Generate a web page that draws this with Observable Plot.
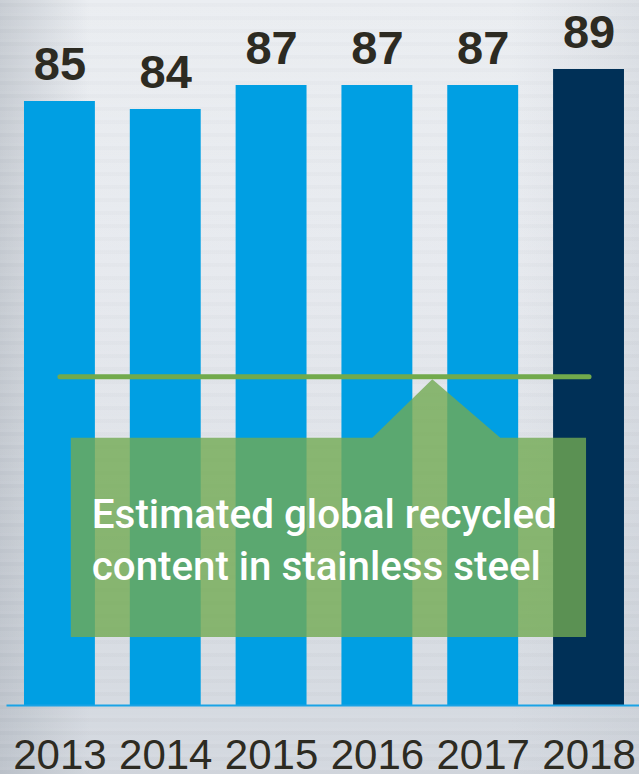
<!DOCTYPE html>
<html><head><meta charset="utf-8">
<script src="https://cdn.jsdelivr.net/npm/d3@7"></script>
<script src="https://cdn.jsdelivr.net/npm/@observablehq/plot@0.6"></script>
<style>
html,body{margin:0;padding:0;}
body{
  width:639px;height:774px;overflow:hidden;
  background:
    repeating-linear-gradient(180deg, rgba(255,255,255,0.06) 0px, rgba(255,255,255,0.06) 3px, rgba(0,0,0,0.012) 3px, rgba(0,0,0,0.012) 7px, rgba(255,255,255,0.03) 7px, rgba(255,255,255,0.03) 13px),
    linear-gradient(90deg, rgba(170,177,186,0.55) 0%, rgba(200,205,212,0) 14%, rgba(255,255,255,0) 80%, rgba(190,196,204,0.35) 100%),
    linear-gradient(180deg, #eaedf1 0%, #e6e9ee 35%, #dde1e7 65%, #d2d7de 100%);
}
#chart svg{display:block;}
</style></head>
<body><div id="chart"></div>
<script>
// ---- data ----
const years = ["2013", "2014", "2015", "2016", "2017", "2018"];
const values = [85, 84, 87, 87, 87, 89];
const highlightYear = "2018";
const recycledLevel = 50.6;            // level of the green reference line
const calloutTop = 42.9, calloutBottom = 18.0;
const calloutLines = ["Estimated global recycled", "content in stainless steel"];
const yDomain = [9.5, 97.625];

const data = years.map((year, i) => ({year, value: values[i]}));

const blue = "#009fe3", navy = "#003057", ink = "#2d2b22", green = "#72aa4c";

function callout(index, scales) {
  const x = scales.x, y = scales.y;
  const bw = typeof x.bandwidth === "function" ? x.bandwidth() : x.bandwidth;
  const c = v => x(v) + bw / 2;
  const L = c(years[0]) + 0.16 * bw, R = c(years[years.length - 1]) - 0.035 * bw;
  const T = y(calloutTop), B = y(calloutBottom);
  const px = (c(years[3]) + c(years[4])) / 2 + 2.5, py = y(recycledLevel) + 3;
  const g = d3.create("svg:g");
  g.append("path")
    .attr("d", `M${L},${T}H${px - 60}L${px},${py}L${px + 68},${T}H${R}V${B}H${L}Z`)
    .attr("fill", "#72aa52").attr("fill-opacity", 0.8);
  const widths = [465, 449];
  calloutLines.forEach((s, i) => {
    g.append("text")
      .attr("x", L + 21).attr("y", T + 90 + i * 52)
      .attr("fill", "white")
      .attr("text-anchor", "start")
      .attr("font-family", "Roboto, 'Liberation Sans', Arial, sans-serif")
      .attr("font-weight", 500)
      .attr("font-size", 40)
      .attr("textLength", widths[i]).attr("lengthAdjust", "spacingAndGlyphs")
      .text(s);
  });
  return g.node();
}

const chart = Plot.plot({
  width: 639, height: 774,
  marginTop: 0, marginBottom: 69, marginLeft: 6.5, marginRight: 0,
  style: {background: "transparent", fontFamily: "'Liberation Sans', Arial, sans-serif", fontSize: "42px", color: ink, overflow: "visible"},
  x: {domain: years, paddingInner: 0.33, paddingOuter: 0.1536, align: 0.538, round: false, tickSize: 0, tickPadding: 34, label: null},
  y: {domain: yDomain, axis: null},
  marks: [
    Plot.barY(data, {x: "year", y1: yDomain[0], y2: "value", fill: d => d.year === highlightYear ? navy : blue}),
    Plot.text(data, {x: "year", y: "value", text: d => String(d.value), dy: -22, lineAnchor: "bottom", fontSize: 47, fontWeight: "bold", fill: ink}),
    Plot.ruleY([yDomain[0]], {stroke: "#1aa3e6", strokeWidth: 2}),
    Plot.line(years, {x: d => d, y: () => recycledLevel, stroke: green, strokeWidth: 5, strokeLinecap: "round"}),
    callout
  ]
});
document.getElementById("chart").appendChild(chart);
</script>
</body></html>
